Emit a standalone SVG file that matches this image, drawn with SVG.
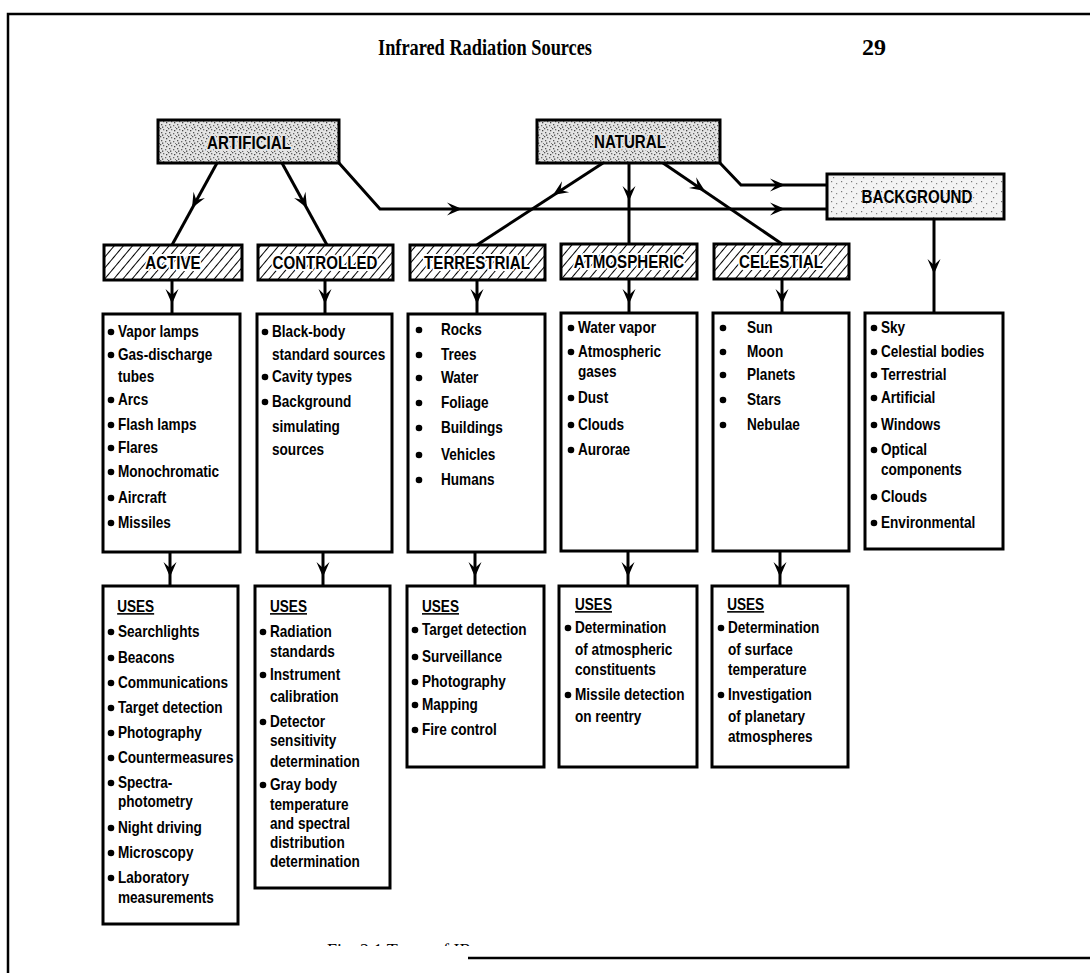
<svg xmlns="http://www.w3.org/2000/svg" width="1090" height="973" viewBox="0 0 1090 973">
<style>
.box{fill:#fff;stroke:#000;stroke-width:3}
.stip{fill:url(#dots);stroke:#000;stroke-width:3}
.stip2{fill:url(#dots2);stroke:#000;stroke-width:3}
.hat{fill:url(#hatch);stroke:#000;stroke-width:3}
.t{font-family:"Liberation Sans",Arial,sans-serif;font-size:16px;font-weight:bold;fill:#000}
.h{font-family:"Liberation Sans",Arial,sans-serif;font-size:18px;font-weight:bold;fill:#000;text-anchor:middle}
.hh{paint-order:stroke;stroke:#fff;stroke-width:4px;stroke-linejoin:round}
.u{text-decoration:underline}
.title{font-family:"Liberation Serif","Times New Roman",serif;font-size:24px;font-weight:bold;fill:#000}
.cap{font-family:"Liberation Serif","Times New Roman",serif;font-size:18px;fill:#000}
.ln{fill:none;stroke:#000;stroke-width:3;stroke-linejoin:miter}
.frame{fill:none;stroke:#000;stroke-width:2.5}
circle{fill:#000}
</style>
<defs>
<pattern id="dots" width="8" height="8" patternUnits="userSpaceOnUse">
<rect width="8" height="8" fill="#e4e4e4"/>
<rect x="0" y="0" width="1.3" height="1.3" fill="#555"/>
<rect x="3" y="1" width="1.3" height="1.3" fill="#666"/>
<rect x="6" y="2" width="1.3" height="1.3" fill="#444"/>
<rect x="1" y="4" width="1.3" height="1.3" fill="#555"/>
<rect x="5" y="5" width="1.3" height="1.3" fill="#666"/>
<rect x="2" y="6.5" width="1.3" height="1.3" fill="#444"/>
<rect x="7" y="7" width="1" height="1" fill="#777"/>
</pattern>
<pattern id="dots2" width="10" height="10" patternUnits="userSpaceOnUse">
<rect width="10" height="10" fill="#f3f3f3"/>
<rect x="1" y="1" width="1.2" height="1.2" fill="#777"/>
<rect x="6" y="3" width="1.2" height="1.2" fill="#888"/>
<rect x="3" y="7" width="1.2" height="1.2" fill="#777"/>
</pattern>
<pattern id="hatch" width="7" height="7" patternUnits="userSpaceOnUse" patternTransform="rotate(40)">
<rect width="7" height="7" fill="#fff"/>
<line x1="0" y1="0" x2="0" y2="7" stroke="#000" stroke-width="2"/>
</pattern>
<path id="ah" d="M0,0 L-15,-6.5 L-9,0 L-15,6.5 Z" fill="#000"/>
<clipPath id="capclip"><rect x="0" y="930" width="1090" height="16"/></clipPath>
</defs>

<rect width="1090" height="973" fill="#fff"/>
<g id="frame">
<path class="frame" d="M8,973 L8,14 L1090,14"/>
<path class="frame" d="M468,958 L1090,958"/>
</g>

<g id="header">
<text class="title" x="378" y="55" textLength="214" lengthAdjust="spacingAndGlyphs">Infrared Radiation Sources</text>
<text class="title" x="862" y="55">29</text>
</g>

<g id="connectors">
<path class="ln" d="M217,163 L172,245"/>
<path class="ln" d="M282,163 L327,245"/>
<path class="ln" d="M339,163 L380,209 L827,209"/>
<path class="ln" d="M603,163 L477,245"/>
<path class="ln" d="M629,163 L629,244"/>
<path class="ln" d="M663,163 L782,244"/>
<path class="ln" d="M720,163 L741,185 L827,185"/>
<path class="ln" d="M934,219 L934,314"/>
<path class="ln" d="M172,280 L172,314"/>
<path class="ln" d="M325,280 L325,314"/>
<path class="ln" d="M477,280 L477,314"/>
<path class="ln" d="M629,280 L629,314"/>
<path class="ln" d="M782,280 L782,314"/>
<path class="ln" d="M170,552 L170,586"/>
<path class="ln" d="M323,552 L323,586"/>
<path class="ln" d="M475,552 L475,586"/>
<path class="ln" d="M628,552 L628,586"/>
<path class="ln" d="M780,552 L780,586"/>
<use href="#ah" transform="translate(192,208) rotate(118.8)"/>
<use href="#ah" transform="translate(307,208) rotate(61.2)"/>
<use href="#ah" transform="translate(462,209)"/>
<use href="#ah" transform="translate(785,209)"/>
<use href="#ah" transform="translate(553,195) rotate(146.9)"/>
<use href="#ah" transform="translate(629,201) rotate(90)"/>
<use href="#ah" transform="translate(705,191) rotate(33.9)"/>
<use href="#ah" transform="translate(785,185)"/>
<use href="#ah" transform="translate(934,274) rotate(90)"/>
<use href="#ah" transform="translate(172,304) rotate(90)"/>
<use href="#ah" transform="translate(325,304) rotate(90)"/>
<use href="#ah" transform="translate(477,304) rotate(90)"/>
<use href="#ah" transform="translate(629,304) rotate(90)"/>
<use href="#ah" transform="translate(782,304) rotate(90)"/>
<use href="#ah" transform="translate(170,577) rotate(90)"/>
<use href="#ah" transform="translate(323,577) rotate(90)"/>
<use href="#ah" transform="translate(475,577) rotate(90)"/>
<use href="#ah" transform="translate(628,577) rotate(90)"/>
<use href="#ah" transform="translate(780,577) rotate(90)"/>
</g>

<g id="artificial">
<rect class="stip" x="158" y="120" width="181" height="43"/>
<text class="h hh" x="249" y="149" style="stroke:#e4e4e4" transform="translate(249,0) scale(0.84,1) translate(-249,0)">ARTIFICIAL</text>
</g>
<g id="natural">
<rect class="stip" x="537" y="120" width="183" height="43"/>
<text class="h hh" x="630" y="148" style="stroke:#e4e4e4" transform="translate(630,0) scale(0.84,1) translate(-630,0)">NATURAL</text>
</g>
<g id="background">
<rect class="stip2" x="827" y="174" width="177" height="45"/>
<text class="h" x="917" y="203" transform="translate(917,0) scale(0.84,1) translate(-917,0)">BACKGROUND</text>
</g>

<g id="active">
<rect class="hat" x="104" y="245" width="138" height="35"/>
<text class="h hh" x="173" y="269" transform="translate(173,0) scale(0.84,1) translate(-173,0)">ACTIVE</text>
</g>
<g id="controlled">
<rect class="hat" x="258" y="245" width="135" height="35"/>
<text class="h hh" x="325" y="269" transform="translate(325,0) scale(0.84,1) translate(-325,0)">CONTROLLED</text>
</g>
<g id="terrestrial">
<rect class="hat" x="410" y="245" width="135" height="35"/>
<text class="h hh" x="477" y="269" transform="translate(477,0) scale(0.84,1) translate(-477,0)">TERRESTRIAL</text>
</g>
<g id="atmospheric">
<rect class="hat" x="561" y="244" width="136" height="35"/>
<text class="h hh" x="629" y="268" transform="translate(629,0) scale(0.84,1) translate(-629,0)">ATMOSPHERIC</text>
</g>
<g id="celestial">
<rect class="hat" x="714" y="244" width="135" height="35"/>
<text class="h hh" x="781" y="268" transform="translate(781,0) scale(0.84,1) translate(-781,0)">CELESTIAL</text>
</g>

<g id="active-sources">
<rect class="box" x="103" y="314" width="137" height="238"/>
<circle cx="111" cy="332" r="3.3"/><circle cx="111" cy="355" r="3.3"/><circle cx="111" cy="400" r="3.3"/><circle cx="111" cy="425" r="3.3"/><circle cx="111" cy="448" r="3.3"/><circle cx="111" cy="472" r="3.3"/><circle cx="111" cy="498" r="3.3"/><circle cx="111" cy="523" r="3.3"/>
<g transform="translate(118,0) scale(0.85,1) translate(-118,0)">
<text class="t" x="118" y="337">Vapor lamps</text>
<text class="t" x="118" y="360">Gas-discharge</text>
<text class="t" x="118" y="382">tubes</text>
<text class="t" x="118" y="405">Arcs</text>
<text class="t" x="118" y="430">Flash lamps</text>
<text class="t" x="118" y="453">Flares</text>
<text class="t" x="118" y="477">Monochromatic</text>
<text class="t" x="118" y="503">Aircraft</text>
<text class="t" x="118" y="528">Missiles</text>
</g>
</g>
<g id="controlled-sources">
<rect class="box" x="257" y="314" width="135" height="238"/>
<circle cx="265" cy="332" r="3.3"/><circle cx="265" cy="377" r="3.3"/><circle cx="265" cy="402" r="3.3"/>
<g transform="translate(272,0) scale(0.85,1) translate(-272,0)">
<text class="t" x="272" y="337">Black-body</text>
<text class="t" x="272" y="360">standard sources</text>
<text class="t" x="272" y="382">Cavity types</text>
<text class="t" x="272" y="407">Background</text>
<text class="t" x="272" y="432">simulating</text>
<text class="t" x="272" y="455">sources</text>
</g>
</g>
<g id="terrestrial-sources">
<rect class="box" x="408" y="314" width="137" height="238"/>
<circle cx="419" cy="330" r="3.3"/><circle cx="419" cy="355" r="3.3"/><circle cx="419" cy="378" r="3.3"/><circle cx="419" cy="403" r="3.3"/><circle cx="419" cy="428" r="3.3"/><circle cx="419" cy="455" r="3.3"/><circle cx="419" cy="480" r="3.3"/>
<g transform="translate(441,0) scale(0.85,1) translate(-441,0)">
<text class="t" x="441" y="335">Rocks</text>
<text class="t" x="441" y="360">Trees</text>
<text class="t" x="441" y="383">Water</text>
<text class="t" x="441" y="408">Foliage</text>
<text class="t" x="441" y="433">Buildings</text>
<text class="t" x="441" y="460">Vehicles</text>
<text class="t" x="441" y="485">Humans</text>
</g>
</g>
<g id="atmospheric-sources">
<rect class="box" x="561" y="313" width="136" height="238"/>
<circle cx="571" cy="328" r="3.3"/><circle cx="571" cy="352" r="3.3"/><circle cx="571" cy="398" r="3.3"/><circle cx="571" cy="425" r="3.3"/><circle cx="571" cy="450" r="3.3"/>
<g transform="translate(578,0) scale(0.85,1) translate(-578,0)">
<text class="t" x="578" y="333">Water vapor</text>
<text class="t" x="578" y="357">Atmospheric</text>
<text class="t" x="578" y="377">gases</text>
<text class="t" x="578" y="403">Dust</text>
<text class="t" x="578" y="430">Clouds</text>
<text class="t" x="578" y="455">Aurorae</text>
</g>
</g>
<g id="celestial-sources">
<rect class="box" x="713" y="313" width="136" height="238"/>
<circle cx="723" cy="328" r="3.3"/><circle cx="723" cy="352" r="3.3"/><circle cx="723" cy="375" r="3.3"/><circle cx="723" cy="400" r="3.3"/><circle cx="723" cy="425" r="3.3"/>
<g transform="translate(747,0) scale(0.85,1) translate(-747,0)">
<text class="t" x="747" y="333">Sun</text>
<text class="t" x="747" y="357">Moon</text>
<text class="t" x="747" y="380">Planets</text>
<text class="t" x="747" y="405">Stars</text>
<text class="t" x="747" y="430">Nebulae</text>
</g>
</g>
<g id="background-sources">
<rect class="box" x="865" y="313" width="138" height="236"/>
<circle cx="874" cy="328" r="3.3"/><circle cx="874" cy="352" r="3.3"/><circle cx="874" cy="375" r="3.3"/><circle cx="874" cy="398" r="3.3"/><circle cx="874" cy="425" r="3.3"/><circle cx="874" cy="450" r="3.3"/><circle cx="874" cy="497" r="3.3"/><circle cx="874" cy="523" r="3.3"/>
<g transform="translate(881,0) scale(0.85,1) translate(-881,0)">
<text class="t" x="881" y="333">Sky</text>
<text class="t" x="881" y="357">Celestial bodies</text>
<text class="t" x="881" y="380">Terrestrial</text>
<text class="t" x="881" y="403">Artificial</text>
<text class="t" x="881" y="430">Windows</text>
<text class="t" x="881" y="455">Optical</text>
<text class="t" x="881" y="475">components</text>
<text class="t" x="881" y="502">Clouds</text>
<text class="t" x="881" y="528">Environmental</text>
</g>
</g>

<g id="active-uses">
<rect class="box" x="103" y="586" width="135" height="338"/>
<circle cx="111" cy="632" r="3.3"/><circle cx="111" cy="658" r="3.3"/><circle cx="111" cy="683" r="3.3"/><circle cx="111" cy="708" r="3.3"/><circle cx="111" cy="733" r="3.3"/><circle cx="111" cy="758" r="3.3"/><circle cx="111" cy="783" r="3.3"/><circle cx="111" cy="828" r="3.3"/><circle cx="111" cy="853" r="3.3"/><circle cx="111" cy="878" r="3.3"/>
<g transform="translate(118,0) scale(0.85,1) translate(-118,0)">
<text class="t u" x="117" y="612">USES</text>
<text class="t" x="118" y="637">Searchlights</text>
<text class="t" x="118" y="663">Beacons</text>
<text class="t" x="118" y="688">Communications</text>
<text class="t" x="118" y="713">Target detection</text>
<text class="t" x="118" y="738">Photography</text>
<text class="t" x="118" y="763">Countermeasures</text>
<text class="t" x="118" y="788">Spectra-</text>
<text class="t" x="118" y="807">photometry</text>
<text class="t" x="118" y="833">Night driving</text>
<text class="t" x="118" y="858">Microscopy</text>
<text class="t" x="118" y="883">Laboratory</text>
<text class="t" x="118" y="903">measurements</text>
</g>
</g>
<g id="controlled-uses">
<rect class="box" x="255" y="586" width="135" height="302"/>
<circle cx="263" cy="632" r="3.3"/><circle cx="263" cy="675" r="3.3"/><circle cx="263" cy="722" r="3.3"/><circle cx="263" cy="785" r="3.3"/>
<g transform="translate(270,0) scale(0.85,1) translate(-270,0)">
<text class="t u" x="270" y="612">USES</text>
<text class="t" x="270" y="637">Radiation</text>
<text class="t" x="270" y="657">standards</text>
<text class="t" x="270" y="680">Instrument</text>
<text class="t" x="270" y="702">calibration</text>
<text class="t" x="270" y="727">Detector</text>
<text class="t" x="270" y="746">sensitivity</text>
<text class="t" x="270" y="767">determination</text>
<text class="t" x="270" y="790">Gray body</text>
<text class="t" x="270" y="810">temperature</text>
<text class="t" x="270" y="829">and spectral</text>
<text class="t" x="270" y="848">distribution</text>
<text class="t" x="270" y="867">determination</text>
</g>
</g>
<g id="terrestrial-uses">
<rect class="box" x="407" y="586" width="137" height="181"/>
<circle cx="415" cy="630" r="3.3"/><circle cx="415" cy="657" r="3.3"/><circle cx="415" cy="682" r="3.3"/><circle cx="415" cy="705" r="3.3"/><circle cx="415" cy="730" r="3.3"/>
<g transform="translate(422,0) scale(0.85,1) translate(-422,0)">
<text class="t u" x="422" y="612">USES</text>
<text class="t" x="422" y="635">Target detection</text>
<text class="t" x="422" y="662">Surveillance</text>
<text class="t" x="422" y="687">Photography</text>
<text class="t" x="422" y="710">Mapping</text>
<text class="t" x="422" y="735">Fire control</text>
</g>
</g>
<g id="atmospheric-uses">
<rect class="box" x="559" y="586" width="138" height="181"/>
<circle cx="568" cy="628" r="3.3"/><circle cx="568" cy="695" r="3.3"/>
<g transform="translate(575,0) scale(0.85,1) translate(-575,0)">
<text class="t u" x="575" y="610">USES</text>
<text class="t" x="575" y="633">Determination</text>
<text class="t" x="575" y="655">of atmospheric</text>
<text class="t" x="575" y="675">constituents</text>
<text class="t" x="575" y="700">Missile detection</text>
<text class="t" x="575" y="722">on reentry</text>
</g>
</g>
<g id="celestial-uses">
<rect class="box" x="712" y="586" width="136" height="181"/>
<circle cx="721" cy="628" r="3.3"/><circle cx="721" cy="695" r="3.3"/>
<g transform="translate(728,0) scale(0.85,1) translate(-728,0)">
<text class="t u" x="727" y="610">USES</text>
<text class="t" x="728" y="633">Determination</text>
<text class="t" x="728" y="655">of surface</text>
<text class="t" x="728" y="675">temperature</text>
<text class="t" x="728" y="700">Investigation</text>
<text class="t" x="728" y="722">of planetary</text>
<text class="t" x="728" y="742">atmospheres</text>
</g>
</g>

<g id="caption" clip-path="url(#capclip)">
<text class="cap" x="327" y="957">Fig. 2.1 Types of IR sources.</text>
</g>
</svg>
